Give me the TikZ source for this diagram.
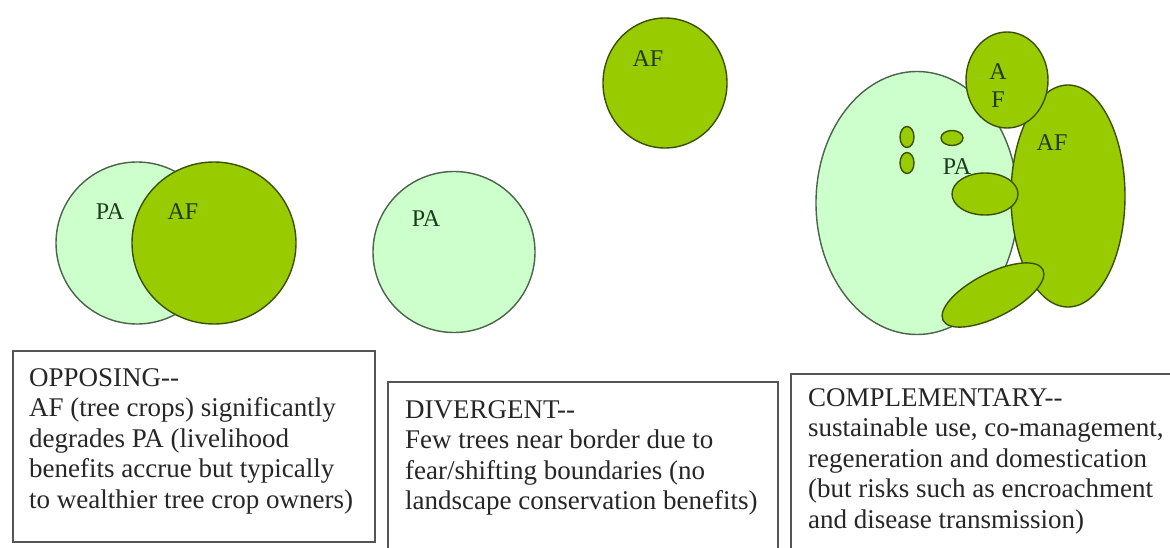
\documentclass[tikz,border=0pt]{standalone}
\usepackage{fontspec}
\setmainfont{Liberation Serif}
\usetikzlibrary{shapes.geometric}
\definecolor{pafill}{HTML}{CCFFCC}
\definecolor{afill}{HTML}{99CC00}
\definecolor{paline}{HTML}{4A634A}
\definecolor{afline}{HTML}{3A5000}
\definecolor{lbl}{HTML}{1E3A1E}
\definecolor{txt}{HTML}{262626}
\definecolor{boxline}{HTML}{555555}
\begin{document}
\begin{tikzpicture}[x=1pt,y=-1pt,
  pa/.style={ellipse,draw=paline,fill=pafill,line width=1.4pt,inner sep=0pt},
  af/.style={ellipse,draw=afline,fill=afill,line width=1.4pt,inner sep=0pt},
  lab/.style={text=lbl,font=\fontsize{24}{28}\selectfont,inner sep=0pt},
  boxst/.style={draw=boxline,line width=1.5pt,fill=none,inner sep=0pt,anchor=north west},
  desc/.style={text=txt,font=\fontsize{27}{30.5}\selectfont,align=left,anchor=base west,inner sep=0pt}]
\useasboundingbox (0,0) rectangle (1170,548);
\clip (0,0) rectangle (1170,548);
% --- left group
\node[pa,minimum width=162pt,minimum height=162pt] (pa1) at (137,243) {};
\node[af,minimum width=164pt,minimum height=162pt] (af1) at (214,243) {};
\node[lab] (pa1l) at (110,212) {PA};
\node[lab] (af1l) at (183,212) {AF};
% --- middle group
\node[pa,minimum width=162pt,minimum height=161pt] (pa2) at (454,252) {};
\node[af,minimum width=124pt,minimum height=130pt] (af2) at (665,83) {};
\node[lab] (pa2l) at (426,219) {PA};
\node[lab] (af2l) at (648,59) {AF};
% --- right group
\node[pa,minimum width=202pt,minimum height=263pt] (pa3) at (917,203) {};
\node[af,minimum width=114pt,minimum height=222pt] (af3) at (1068,196) {};
\node[af,minimum width=82pt,minimum height=96pt] (af4) at (1007,80) {};
\node[af,minimum width=14pt,minimum height=21pt] (d1) at (907,137) {};
\node[af,minimum width=14pt,minimum height=21pt] (d2) at (907,163) {};
\node[af,minimum width=22pt,minimum height=15pt] (d3) at (952,138) {};
\node[af,minimum width=66pt,minimum height=42pt] (m1) at (985,194) {};
\node[af,minimum width=112pt,minimum height=44pt,rotate=27] (m2) at (993,295) {};
\node[lab,align=center] (af4l) at (998,86) {A\\F};
\node[lab] (af3l) at (1052,143) {AF};
\node[lab] (pa3l) at (957,167) {PA};
% --- boxes
\node[boxst,minimum width=362pt,minimum height=191pt] (b1) at (12,350) {};
\node[boxst,minimum width=390pt,minimum height=190pt] (b2) at (387,381) {};
\node[boxst,minimum width=400pt,minimum height=200pt] (b3) at (790,373) {};
% base anchor of a multi-line node is the baseline of its last line
\node[desc] (t1) at (29,508) {OPPOSING-{}-\\AF (tree crops) significantly\\degrades PA (livelihood\\benefits accrue but typically\\to wealthier tree crop owners)};
\node[desc] (t2) at (405,509.5) {DIVERGENT-{}-\\Few trees near border due to\\fear/shifting boundaries (no\\landscape conservation benefits)};
\node[desc] (t3) at (808,528) {COMPLEMENTARY-{}-\\sustainable use, co-management,\\regeneration and domestication\\(but risks such as encroachment\\and disease transmission)};
\end{tikzpicture}
\end{document}
